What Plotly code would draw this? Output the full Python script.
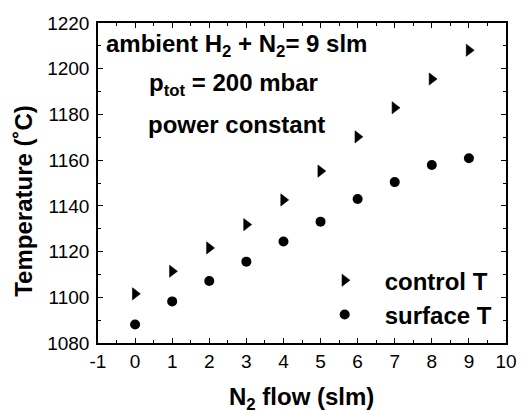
import plotly.graph_objects as go

n2_flow = [0, 1, 2, 3, 4, 5, 6, 7, 8, 9]
control_T = [1101.5, 1111.4, 1121.6, 1131.8, 1142.6, 1155.2, 1170.2, 1182.9, 1195.5, 1208.1]
surface_T = [1088.1, 1098.2, 1107.1, 1115.6, 1124.4, 1133.1, 1143.0, 1150.4, 1157.9, 1160.8]

x_tick_vals = [-1, 0, 1, 2, 3, 4, 5, 6, 7, 8, 9, 10]
x_tick_text = ["-1", "0", "1", "2", "3", "4", "5", "6", "7", "8", "9", "10"]
y_tick_vals = [1080, 1100, 1120, 1140, 1160, 1180, 1200, 1220]

FONT = "Liberation Sans, Arial, Helvetica, sans-serif"

W, H = 529, 410
ML, MR, MT, MB = 98, 14.5, 22.5, 67


def px_x(p):
    return (p - ML) / (W - ML - MR)


def px_y(p):
    return (H - MB - p) / (H - MT - MB)


fig = go.Figure()
fig.add_trace(go.Scatter(
    x=n2_flow, y=control_T, mode="markers", name="<b>control T</b>",
    marker=dict(symbol="triangle-right", size=10.5, color="black",
                line=dict(width=0.6, color="black")),
))
fig.add_trace(go.Scatter(
    x=n2_flow, y=surface_T, mode="markers", name="<b>surface T</b>",
    marker=dict(symbol="circle", size=10, color="black"),
))

axis_common = dict(
    showline=True, linecolor="black", linewidth=1.5, mirror="ticks",
    ticks="inside", ticklen=5, tickwidth=1, tickcolor="black",
    showgrid=False, zeroline=False,
    tickfont=dict(family=FONT, size=19, color="black"),
)

fig.update_xaxes(
    range=[-1, 10], tickmode="array", tickvals=x_tick_vals, ticktext=x_tick_text,
    minor=dict(dtick=0.5, ticks="inside", ticklen=3, tickcolor="black", showgrid=False),
    **axis_common,
)
fig.update_yaxes(
    range=[1080, 1220], tickmode="array", tickvals=y_tick_vals,
    minor=dict(dtick=10, ticks="inside", ticklen=3, tickcolor="black", showgrid=False),
    ticklabelstandoff=3,
    **axis_common,
)

bold = dict(family=FONT, size=24, color="black")
annos = [
    dict(text="<b>ambient H<sub>2</sub> + N<sub>2</sub>= 9 slm</b>", x=px_x(239), y=px_y(45)),
    dict(text="<b>p<sub>tot</sub> = 200 mbar</b>", x=px_x(236), y=px_y(84)),
    dict(text="<b>power constant</b>", x=px_x(239), y=px_y(124)),
    dict(text="<b>N<sub>2</sub> flow (slm)</b>", x=px_x(306), y=px_y(399)),
]
for a in annos:
    fig.add_annotation(xref="paper", yref="paper", xanchor="center", yanchor="middle",
                       showarrow=False, font=bold, **a)
fig.add_annotation(text="<b>Temperature (˚C)</b>", xref="paper", yref="paper",
                   x=px_x(22), y=px_y(201), xanchor="center", yanchor="middle",
                   textangle=-90, showarrow=False, font=bold)

fig.update_layout(
    width=W, height=H,
    margin=dict(l=ML, r=MR, t=MT, b=MB, pad=0),
    paper_bgcolor="white", plot_bgcolor="white",
    showlegend=True,
    legend=dict(x=px_x(309), y=px_y(258), xanchor="left", yanchor="top",
                bgcolor="rgba(0,0,0,0)", borderwidth=0,
                font=dict(family=FONT, size=24, color="black"),
                itemwidth=70, tracegroupgap=0),
)

fig.write_html("out.html", config={"displayModeBar": False},
               post_script="document.body.style.margin='0';")
